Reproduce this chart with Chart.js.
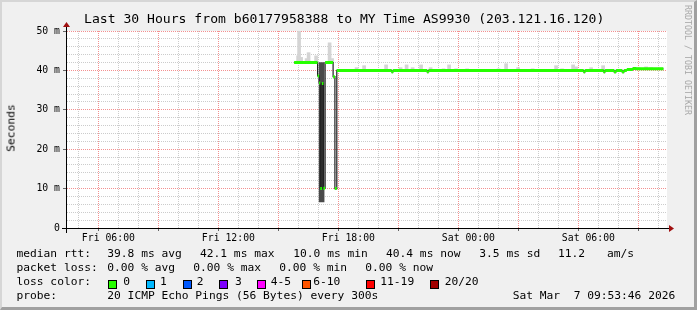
<!DOCTYPE html>
<html>
<head>
<meta charset="utf-8">
<script src="https://cdn.jsdelivr.net/npm/chart.js@4.4.1/dist/chart.umd.min.js"></script>
<style>
  body { margin: 0; background: #f0f0f0; }
  #wrap { position: relative; width: 697px; height: 310px; overflow: hidden; background: #f0f0f0;
          font-family: 'DejaVu Sans Mono', monospace; color: #000; }
  #c { position: absolute; left: 0; top: 0; }
  .t { position: absolute; white-space: pre; font-size: 11.25px; line-height: 14px; }
  .box { position: absolute; width: 7px; height: 7px; border: 1px solid #000; top: 280px; }
  #title { position: absolute; left: 84px; top: 11px; font-size: 13.1px; line-height: 16px; white-space: pre; }
  #ytitle { position: absolute; left: 10.5px; top: 127.5px; font-size: 11.3px; white-space: pre; color: #000;
            transform: translate(-50%, -50%) rotate(-90deg); }
  #rrd { position: absolute; left: 683px; top: 5px; font-size: 8.3px; color: #a8a8a8; white-space: pre;
         transform-origin: 0 0; transform: translate(10px, 0) rotate(90deg); }
  #frame { position: absolute; left: 0; top: 0; width: 697px; height: 310px; box-sizing: border-box;
           border-top: 2px solid #d6d6d6; border-left: 2px solid #d6d6d6;
           border-right: 3px solid #a0a0a0; border-bottom: 3px solid #a0a0a0; pointer-events: none; }
</style>
</head>
<body>
<div id="wrap">
  <canvas id="c" width="697" height="310"></canvas>
  <div id="title">Last 30 Hours from b60177958388 to MY Time AS9930 (203.121.16.120)</div>
  <div id="ytitle">Seconds</div>
  <div id="rrd">RRDTOOL / TOBI OETIKER</div>

  <div class="t" style="left:16.5px;top:247px">median rtt:</div>
  <div class="t" style="left:107.3px;top:247px">39.8 ms avg</div>
  <div class="t" style="left:200px;top:247px">42.1 ms max</div>
  <div class="t" style="left:293.3px;top:247px">10.0 ms min</div>
  <div class="t" style="left:386px;top:247px">40.4 ms now</div>
  <div class="t" style="left:479.3px;top:247px">3.5 ms sd</div>
  <div class="t" style="left:558px;top:247px">11.2</div>
  <div class="t" style="left:607px;top:247px">am/s</div>

  <div class="t" style="left:16.5px;top:261px">packet loss:</div>
  <div class="t" style="left:107.3px;top:261px">0.00 % avg</div>
  <div class="t" style="left:193.3px;top:261px">0.00 % max</div>
  <div class="t" style="left:279.3px;top:261px">0.00 % min</div>
  <div class="t" style="left:365.3px;top:261px">0.00 % now</div>

  <div class="t" style="left:16.5px;top:275.3px">loss color:</div>
  <div id="losslegend"></div>

  <div class="t" style="left:16.5px;top:289.3px">probe:</div>
  <div class="t" style="left:107.3px;top:289.3px">20 ICMP Echo Pings (56 Bytes) every 300s</div>
  <div class="t" style="left:512.7px;top:289.3px">Sat Mar  7 09:53:46 2026</div>
  <div id="frame"></div>
</div>
<script>
// time axis in hours since Fri 00:00
const xMin = 3.93;
const xMax = 33.93;

// median rtt (ms), value holds from each time until the next one
const medianTime = [15.285, 16.46, 16.535, 16.595, 16.675, 16.75, 16.835, 17.235, 17.325, 17.42,
                    20.16, 20.235, 21.935, 22.01, 29.76, 29.835, 30.76, 30.835, 31.285, 31.385,
                    31.685, 31.785, 31.92, 32.22, 32.385, 33.75];
const medianValue = [42.0, 38.6, 36.8, 10.0, 36.7, 10.1, 42.0, 38.4, 10.0, 40.0,
                     39.6, 40.0, 39.6, 40.0, 39.6, 40.0, 39.6, 40.0, 39.6, 40.0,
                     39.6, 40.0, 40.2, 40.5, 40.4, 40.4];

// smoke (spread of the pings)
const smokeTime = [15.485, 15.535, 15.635, 15.91, 16.01, 16.385, 17.06, 17.185, 18.41, 18.785,
                   19.885, 20.61, 20.91, 21.21, 21.635, 22.11, 22.76, 23.035, 23.385, 23.935,
                   25.51, 25.885, 26.485, 27.21, 28.385, 28.685, 29.235, 29.385, 30.135, 30.735,
                   32.51, 32.885, 33.135, 33.635];
const smokeLow = [42, 42, 42, 42, 42, 42, 42, 42, 40, 40,
                  40, 40, 40, 40, 40, 40, 40, 40, 40, 40,
                  40, 40, 40, 40, 40, 40, 40, 40, 40, 40,
                  40.4, 40.4, 40.4, 40.4];
const smokeHigh = [43.7, 50.0, 43.3, 43.0, 44.5, 43.7, 47.0, 43.0, 40.7, 41.2,
                   41.4, 40.7, 41.4, 40.7, 41.4, 40.7, 40.4, 41.4, 40.4, 40.4,
                   40.4, 41.7, 40.7, 40.4, 41.2, 40.4, 41.4, 40.9, 40.7, 41.2,
                   40.7, 40.9, 40.7, 40.6];

// the dense smoke column during the drop
const darkTime = [16.66];
const darkLow = [6.6];
const darkHigh = [42.0];

const hourTicks = [];
for (let h = 4; h <= 33; h++) hourTicks.push(h);
const rttTicks = [];
for (let v = 0; v <= 50; v += 2) rttTicks.push(v);

const lossNames = ['0', '1', '2', '3', '4-5', '6-10', '11-19', '20/20'];
const lossColors = ['#26ff00', '#00b8ff', '#0059ff', '#7e00ff', '#ff00ff', '#ff5500', '#ff0000', '#a10000'];
const lossBoxX = [108.3, 145.7, 182.7, 219.3, 256.7, 301.7, 366, 430.3];
const lossTextX = [123.3, 160, 196.7, 235, 270.7, 313.3, 380.3, 444.7];

const legendEl = document.getElementById('losslegend');
lossNames.forEach((n, i) => {
  const b = document.createElement('div');
  b.className = 'box';
  b.style.left = lossBoxX[i] + 'px';
  b.style.background = lossColors[i];
  legendEl.appendChild(b);
  const t = document.createElement('div');
  t.className = 't';
  t.style.left = lossTextX[i] + 'px';
  t.style.top = '275.3px';
  t.textContent = n;
  legendEl.appendChild(t);
});

const medianPts = medianTime.map((t, i) => ({x: t, y: medianValue[i]}));
// green loss-coloured pieces: horizontal parts only
const greenPts = [];
for (let i = 0; i < medianTime.length - 1; i++) {
  greenPts.push({x: medianTime[i], y: medianValue[i]});
  greenPts.push({x: medianTime[i + 1], y: medianValue[i]});
  greenPts.push({x: medianTime[i + 1], y: null});
}
const smokePts = smokeTime.map((t, i) => ({x: t, y: [smokeLow[i], smokeHigh[i]]}));
const darkPts = darkTime.map((t, i) => ({x: t, y: [darkLow[i], darkHigh[i]]}));

const RED = '#f39090';
const GRAY = '#cccccc';
const tickFont = {family: 'DejaVu Sans Mono', size: 9.8};

function hourLabel(v) {
  const day = v < 24 ? 'Fri' : 'Sat';
  const hh = String(v % 24).padStart(2, '0');
  return day + ' ' + hh + ':00';
}

function gridColor(step) {
  return c => {
    const v = c.tick ? c.tick.value : NaN;
    return Math.abs(v % step) < 1e-6 ? RED : GRAY;
  };
}

const frame = {
  id: 'frame',
  beforeDraw(chart) {
    const {ctx, chartArea: a} = chart;
    ctx.save();
    ctx.fillStyle = '#f0f0f0';
    ctx.fillRect(0, 0, chart.width, chart.height);
    ctx.fillStyle = '#ffffff';
    ctx.fillRect(a.left, a.top, a.right - a.left, a.bottom - a.top);
    ctx.restore();
  },
  afterDraw(chart) {
    const {ctx, chartArea: a} = chart;
    const yb = Math.round(a.bottom) + 0.5;
    const xl = Math.round(a.left) - 0.5;
    ctx.save();
    ctx.strokeStyle = '#000';
    ctx.lineWidth = 1;
    ctx.beginPath();
    ctx.moveTo(a.left - 5, yb);
    ctx.lineTo(a.right + 3, yb);
    ctx.moveTo(xl, a.bottom + 5);
    ctx.lineTo(xl, a.top - 5);
    ctx.stroke();
    ctx.fillStyle = '#a01010';
    ctx.beginPath();
    ctx.moveTo(a.right + 2, yb - 3.5);
    ctx.lineTo(a.right + 7, yb);
    ctx.lineTo(a.right + 2, yb + 3.5);
    ctx.fill();
    ctx.beginPath();
    ctx.moveTo(xl - 3.5, a.top - 4);
    ctx.lineTo(xl, a.top - 9);
    ctx.lineTo(xl + 3.5, a.top - 4);
    ctx.fill();
    ctx.restore();
  }
};

new Chart(document.getElementById('c'), {
  data: {
    datasets: [
      {
        type: 'line', label: 'loss 0', data: greenPts, order: 0,
        borderColor: '#26ff00', borderWidth: 3, borderCapStyle: 'butt',
        pointRadius: 0, spanGaps: false, tension: 0
      },
      {
        type: 'line', label: 'median', data: medianPts, order: 1,
        borderColor: '#202020', borderWidth: 1.2, stepped: true,
        pointRadius: 0, tension: 0
      },
      {
        type: 'bar', label: 'dark smoke', data: darkPts, order: 2,
        backgroundColor: '#4a4a4a', barThickness: 5, grouped: false
      },
      {
        type: 'bar', label: 'smoke', data: smokePts, order: 3,
        backgroundColor: '#d4d4d4', barThickness: 3, grouped: false
      }
    ]
  },
  options: {
    responsive: false,
    animation: false,
    devicePixelRatio: 1,
    layout: {padding: {left: 0, top: 31, right: 30, bottom: 62}},
    plugins: {legend: {display: false}, title: {display: false}, tooltip: {enabled: false}},
    scales: {
      x: {
        type: 'linear', min: xMin, max: xMax, offset: false,
        afterBuildTicks: s => { s.ticks = hourTicks.map(v => ({value: v})); },
        afterFit: s => { s.height = 20; },
        ticks: {
          autoSkip: false, maxRotation: 0, padding: 2, font: tickFont, color: '#000',
          callback: v => (v % 6 === 0 ? hourLabel(v) : '')
        },
        grid: {
          color: gridColor(3),
          tickColor: c => (c.tick && c.tick.value % 3 === 0 ? '#666' : 'rgba(0,0,0,0)'),
          tickLength: 3, tickBorderDash: []
        },
        border: {display: false, dash: [1, 1]}
      },
      y: {
        type: 'linear', min: 0, max: 50,
        afterBuildTicks: s => { s.ticks = rttTicks.map(v => ({value: v})); },
        afterFit: s => { s.width = 67; },
        ticks: {
          autoSkip: false, padding: 3, font: tickFont, color: '#000',
          callback: v => (v % 10 !== 0 ? '' : (v === 0 ? '0' : v + ' m'))
        },
        grid: {
          color: gridColor(10),
          tickColor: c => (c.tick && c.tick.value % 10 === 0 ? '#666' : 'rgba(0,0,0,0)'),
          tickLength: 4, tickBorderDash: []
        },
        border: {display: false, dash: [1, 1]}
      }
    }
  },
  plugins: [frame]
});
</script>
</body>
</html>
